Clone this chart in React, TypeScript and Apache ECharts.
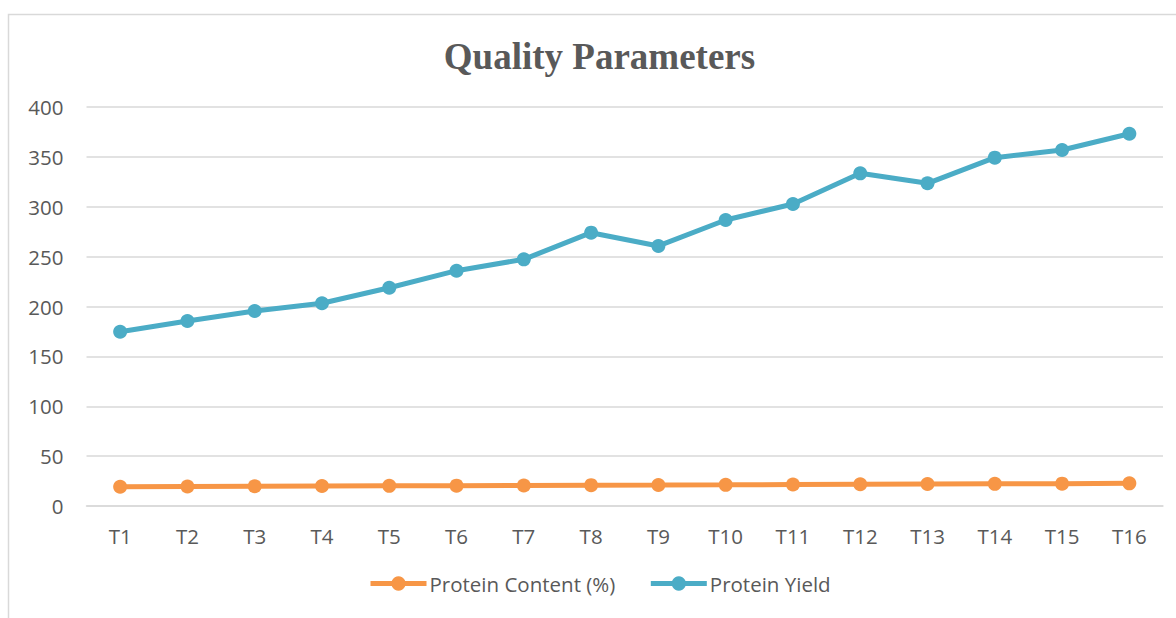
import React, { useEffect, useRef } from "react";
import * as echarts from "echarts";

const categories = ["T1","T2","T3","T4","T5","T6","T7","T8","T9","T10","T11","T12","T13","T14","T15","T16"];
const proteinContent = [19.3, 19.6, 19.8, 20.0, 20.2, 20.4, 20.6, 20.9, 21.0, 21.2, 21.5, 21.8, 22.0, 22.2, 22.4, 22.7];
const proteinYield = [174.7, 185.5, 195.5, 203.2, 218.8, 235.9, 247.3, 274.0, 260.7, 286.7, 302.8, 333.5, 323.5, 349.2, 356.9, 373.2];
const seriesNames = ["Protein Content (%)", "Protein Yield"];
const yTicks = { min: 0, max: 400, interval: 50 };

export default function App() {
  const ref = useRef<HTMLDivElement>(null);
  useEffect(() => {
    if (!ref.current) return;
    const chart = echarts.init(ref.current, undefined, { renderer: "svg" });
    const font = "'Open Sans', sans-serif";
    chart.setOption({
      animation: false,
      backgroundColor: "#ffffff",
      title: {
        text: "Quality Parameters",
        left: 599.5,
        textAlign: "center",
        top: 38,
        padding: 0,
        textStyle: { fontFamily: "'Liberation Serif', 'Times New Roman', serif", fontWeight: "bold", fontSize: 37, color: "#595959" },
      },
      graphic: [
        {
          type: "rect",
          shape: { x: 8.5, y: 14.5, width: 1300, height: 700 },
          style: { fill: "none", stroke: "#d9d9d9", lineWidth: 1.5 },
          silent: true,
          z: -1,
        },
      ],
      legend: {
        left: 368,
        top: 573,
        itemWidth: 56,
        itemHeight: 18,
        itemGap: 33,
        padding: 0,
        lineStyle: { width: 5 },
        textStyle: { fontFamily: font, fontSize: 20.5, color: "#595959", padding: [0, 0, 0, -2] },
        data: seriesNames,
      },
      grid: { left: 86.5, right: 13, top: 107, bottom: 112, containLabel: false },
      xAxis: {
        type: "category",
        data: categories,
        boundaryGap: true,
        axisLine: { show: true, lineStyle: { color: "#d9d9d9", width: 1.5 } },
        axisTick: { show: false },
        axisLabel: { fontFamily: font, fontSize: 20.5, color: "#595959", margin: 19 },
      },
      yAxis: {
        type: "value",
        min: yTicks.min,
        max: yTicks.max,
        interval: yTicks.interval,
        axisLine: { show: false },
        axisTick: { show: false },
        axisLabel: { fontFamily: font, fontSize: 20.5, color: "#595959", margin: 23 },
        splitLine: { lineStyle: { color: "#d9d9d9", width: 1.5 } },
      },
      series: [
        {
          name: seriesNames[0],
          type: "line",
          data: proteinContent,
          symbol: "circle",
          symbolSize: 14,
          lineStyle: { color: "#F79646", width: 5 },
          itemStyle: { color: "#F79646" },
        },
        {
          name: seriesNames[1],
          type: "line",
          data: proteinYield,
          symbol: "circle",
          symbolSize: 14,
          lineStyle: { color: "#4BACC6", width: 5 },
          itemStyle: { color: "#4BACC6" },
        },
      ],
    });
    return () => chart.dispose();
  }, []);
  return (
    <div style={{ position: "fixed", left: 0, top: 0, width: 1176, height: 618, background: "#fff" }}>
      <div ref={ref} style={{ width: 1176, height: 618 }} />
    </div>
  );
}
